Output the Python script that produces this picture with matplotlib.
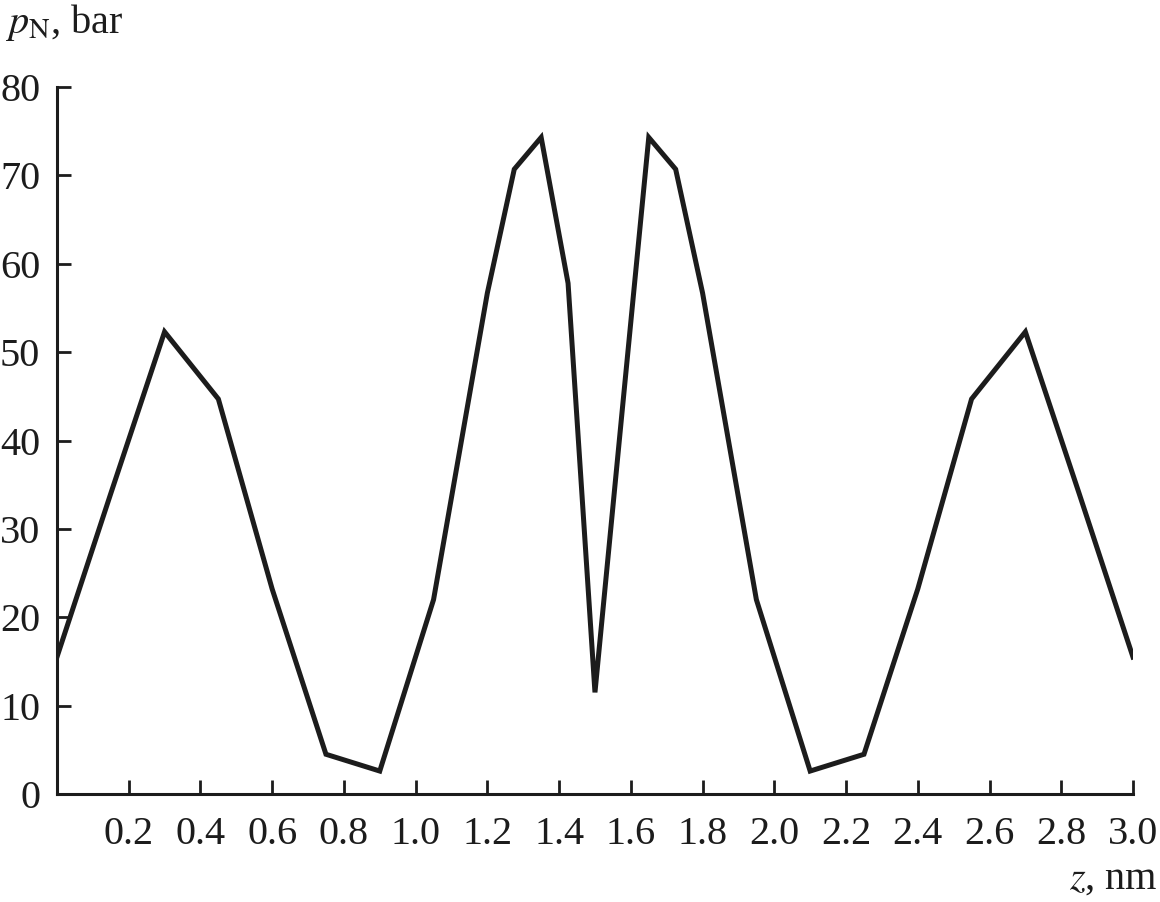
import matplotlib
matplotlib.use('Agg')
import matplotlib.pyplot as plt
import numpy as np

# pressure profile p_N(z)
z = [0.0, 0.15, 0.3, 0.45, 0.6, 0.75, 0.9, 1.05, 1.2, 1.275, 1.35, 1.425, 1.5,
     1.575, 1.65, 1.725, 1.8, 1.95, 2.1, 2.25, 2.4, 2.55, 2.7, 2.85, 3.0]
p_N = [15.5, 34.0, 52.3, 44.7, 23.2, 4.5, 2.6, 22.0, 56.7, 70.7, 74.3, 57.8, 11.5,
       43.0, 74.3, 70.7, 56.7, 22.0, 2.6, 4.5, 23.2, 44.7, 52.3, 34.0, 15.5]

x_ticks = [0.2, 0.4, 0.6, 0.8, 1.0, 1.2, 1.4, 1.6, 1.8, 2.0, 2.2, 2.4, 2.6, 2.8, 3.0]
y_ticks = [0, 10, 20, 30, 40, 50, 60, 70, 80]

plt.rcParams['font.family'] = ['Liberation Serif', 'DejaVu Serif']
plt.rcParams['mathtext.fontset'] = 'stix'

fig = plt.figure(figsize=(11.6, 9.02), dpi=100)
ax = fig.add_axes([0.0491, 0.1197, 0.9276, 0.7838])

ax.plot(z, p_N, color='#1c1c1c', lw=3.6, solid_joinstyle='miter')

ax.set_xlim(0, 3.0)
ax.set_ylim(0, 80)
ax.set_xticks(x_ticks)
ax.set_xticklabels(['%.1f' % t for t in x_ticks])
ax.set_yticks(y_ticks)

for s in ['top', 'right']:
    ax.spines[s].set_visible(False)
for s in ['left', 'bottom']:
    ax.spines[s].set_linewidth(2.2)
    ax.spines[s].set_color('#1c1c1c')

ax.tick_params(axis='both', direction='in', length=10, width=2, color='#1c1c1c',
               labelsize=29, labelcolor='#1c1c1c')
ax.tick_params(axis='x', pad=16)
ax.tick_params(axis='y', pad=12)

fig.text(0.004, 0.975, r'$p_{\rm N}$, bar', fontsize=29, color='#1c1c1c',
         ha='left', va='center')
fig.text(0.998, 0.025, r'$z$, nm', fontsize=29, color='#1c1c1c',
         ha='right', va='center')

fig.savefig('out.png', dpi=100)
